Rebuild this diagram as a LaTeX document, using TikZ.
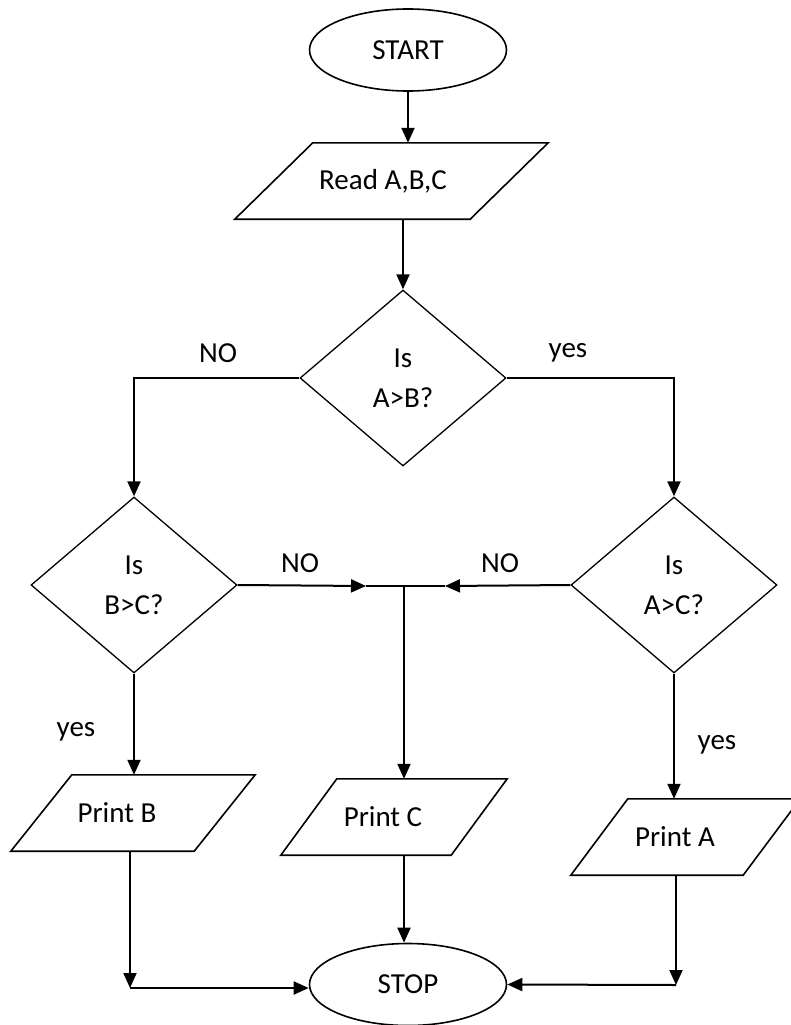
\documentclass[tikz,border=0pt]{standalone}
\usepackage{fontspec}
\setmainfont{Carlito}
\usetikzlibrary{shapes.geometric,arrows.meta}
\begin{document}
\begin{tikzpicture}[x=1pt,y=-1pt,
  font=\fontsize{29}{40}\selectfont,
  term/.style={ellipse, draw, line width=1.6pt, minimum width=197pt, minimum height=82pt, inner sep=0pt},
  dec/.style={diamond, draw, line width=1.3pt, minimum width=206pt, minimum height=176pt, inner sep=0pt, align=center},
  io/.style={rectangle, minimum width=#1, minimum height=76pt, inner sep=0pt},
  outline/.style={line width=1.6pt, line join=miter},
  arr/.style={line width=2pt, -{Triangle[length=15pt,width=13pt]}},
  thin/.style={line width=1.3pt},
  lbl/.style={inner sep=0pt}
]
\useasboundingbox (0,0) rectangle (791,1025);

\node[term] (start) at (408,50) {START};
\node[io=235pt] (read) at (391.5,181) {Read A,B,C\kern17pt};
\node[dec] (d1) at (403,378) {Is\\A>B?};
\node[dec] (d2) at (134,585) {Is\\B>C?};
\node[dec] (d3) at (674,585) {Is\\A>C?};
\node[io=183pt] (pb) at (133,813) {Print B\kern32pt};
\node[io=170pt] (pc) at (394,817) {Print C\kern22pt};
\node[io=172pt] (pa) at (685.5,837) {Print A\kern21pt};
\node[term] (stop) at (408,984.5) {STOP};

% parallelogram outlines
\draw[outline] ([xshift=39pt]read.north west) -- ([xshift=39pt]read.north east) -- ([xshift=-39pt]read.south east) -- ([xshift=-39pt]read.south west) -- cycle;
\draw[outline] ([xshift=30.5pt]pb.north west) -- ([xshift=30.5pt]pb.north east) -- ([xshift=-30.5pt]pb.south east) -- ([xshift=-30.5pt]pb.south west) -- cycle;
\draw[outline] ([xshift=28pt]pc.north west) -- ([xshift=28pt]pc.north east) -- ([xshift=-28pt]pc.south east) -- ([xshift=-28pt]pc.south west) -- cycle;
\draw[outline] ([xshift=28.5pt]pa.north west) -- ([xshift=28.5pt]pa.north east) -- ([xshift=-28.5pt]pa.south east) -- ([xshift=-28.5pt]pa.south west) -- cycle;

\node[lbl] (no1) at (218,353) {NO};
\node[lbl] (yes1) at (568,353) {yes};
\node[lbl] (no2) at (300,563) {NO};
\node[lbl] (no3) at (500,563) {NO};
\node[lbl] (yes2) at (76,732) {yes};
\node[lbl] (yes3) at (717,745) {yes};

\coordinate (j) at (404,586);
\coordinate (jl) at (366,586);
\coordinate (jr) at (445,586);
\coordinate (cb) at (130,988);
\coordinate (ca) at (676,985);

\draw[arr] (start.south) -- (start.south |- read.north);
\draw[arr] (d1.north |- read.south) -- (d1.north);
\draw[arr] (d1.west) -| (d2.north);
\draw[arr] (d1.east) -| (d3.north);
\draw[thin] (jl) -- (jr);
\draw[arr] (d2.east) -- (jl);
\draw[arr] (d3.west) -- (jr);
\draw[arr] (j) -- (j |- pc.north);
\draw[arr] (d2.south) -- (d2.south |- pb.north);
\draw[arr] (d3.south) -- (d3.south |- pa.north);
\draw[arr] (cb |- pb.south) -- (cb);
\draw[arr] (cb) -- (cb -| stop.west);
\draw[arr] (j |- pc.south) -- (j |- stop.north);
\draw[arr] (ca |- pa.south) -- (ca);
\draw[arr] (ca) -- (stop.east);
\end{tikzpicture}
\end{document}
